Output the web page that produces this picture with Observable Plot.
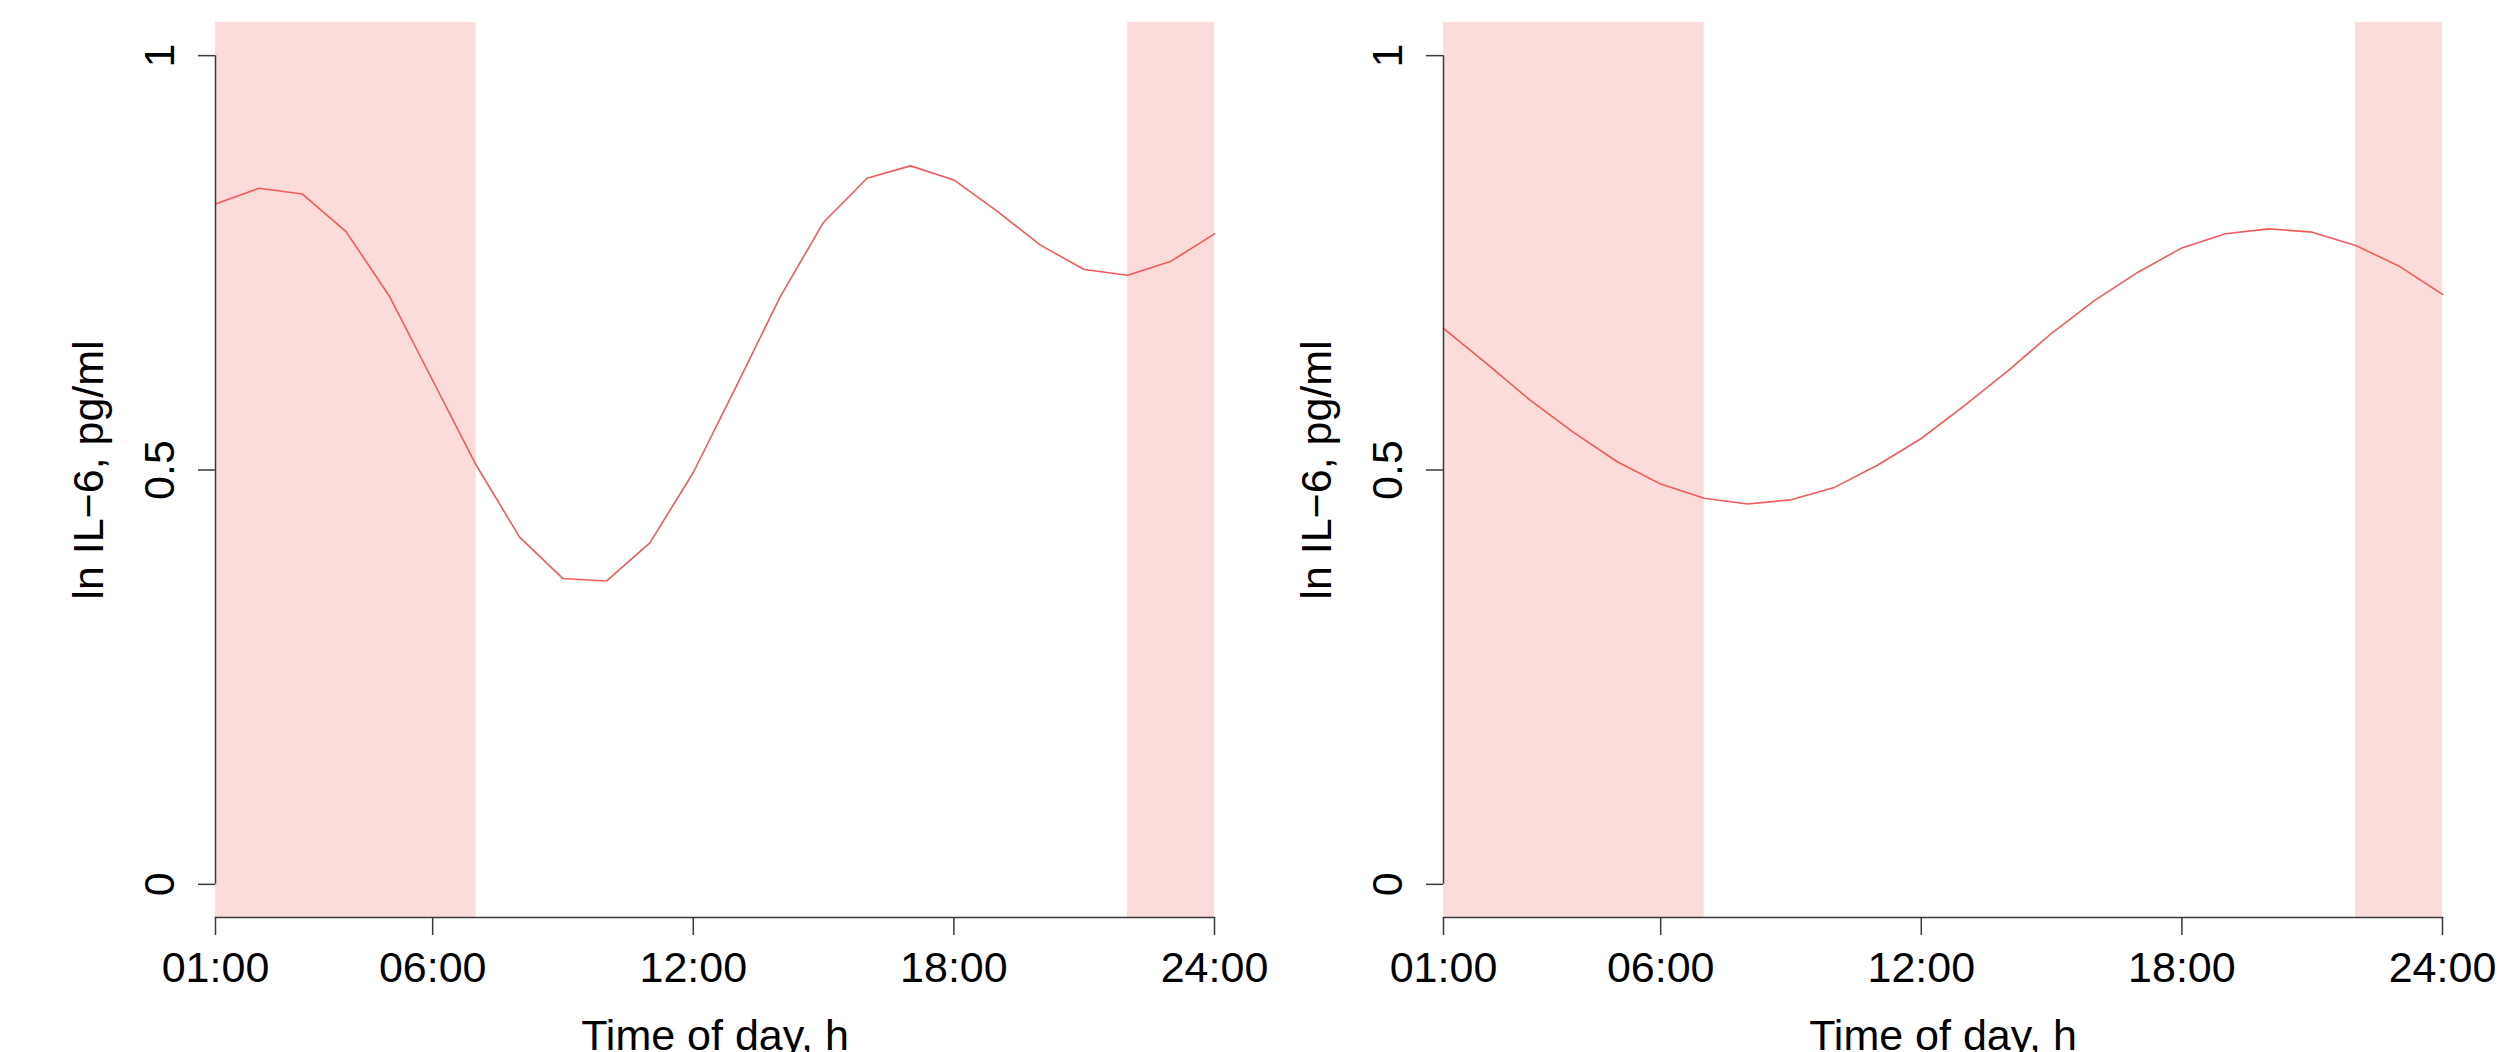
<!DOCTYPE html>
<html>
<head>
<meta charset="utf-8">
<script src="https://cdn.jsdelivr.net/npm/d3@7"></script>
<script src="https://cdn.jsdelivr.net/npm/@observablehq/plot@0.6"></script>
<style>
  html, body { margin: 0; padding: 0; background: #fff; }
  #wrap { display: flex; width: 2506px; height: 1052px; overflow: hidden; background: #fff; }
  #wrap svg { display: block; overflow: visible; }
  #wrap svg:first-child { position: relative; z-index: 2; }
</style>
</head>
<body>
<div id="wrap"></div>
<script>
// Hours of day (x)
const hours = [1,2,3,4,5,6,7,8,9,10,11,12,13,14,15,16,17,18,19,20,21,22,23,24];
// Left panel series: ln IL-6 (pg/ml)
const leftValues = [0.821,0.840,0.833,0.788,0.710,0.608,0.506,0.419,0.369,0.366,0.412,0.497,
                    0.602,0.709,0.799,0.852,0.867,0.850,0.812,0.771,0.742,0.735,0.752,0.785];
// Right panel series: ln IL-6 (pg/ml)
const rightValues = [0.671,0.628,0.584,0.545,0.510,0.483,0.466,0.459,0.464,0.479,0.506,0.538,
                     0.578,0.620,0.665,0.705,0.739,0.768,0.785,0.791,0.787,0.771,0.746,0.712];
// Night (shaded) intervals
const nightStart = [1, 22];
const nightEnd = [7, 24];
// Axis ticks and labels
const xTicks = [1, 6, 12, 18, 24];
const xTickLabels = ["01:00", "06:00", "12:00", "18:00", "24:00"];
const yTicks = [0, 0.5, 1];
const yTickLabels = ["0", "0.5", "1"];
const xLabel = "Time of day, h";
const yLabel = "ln IL\u22126, pg/ml";

const lineColor = "#F35B5B";
const shadeColor = "#FBDCDA";
const axisColor = "#3a3a3a";
const FONT = "'Liberation Sans', Arial, Helvetica, sans-serif";
const FS = 43;

const bands = nightStart.map((s, i) => ({start: s, end: nightEnd[i]}));

function panel(values, marginLeft, marginRight) {
  const data = hours.map((h, i) => ({hour: h, value: values[i]}));
  return Plot.plot({
    width: 1253,
    height: 1052,
    marginLeft,
    marginRight,
    marginTop: 22,
    marginBottom: 135,
    style: {fontFamily: FONT, fontSize: FS + "px", background: "transparent", color: "#000", overflow: "visible"},
    x: {domain: [xTicks[0], xTicks[xTicks.length - 1]]},
    y: {domain: [-0.04, 1.04]},
    marks: [
      Plot.rect(bands, {x1: "start", x2: "end", fill: shadeColor}),
      Plot.line(data, {x: "hour", y: "value", stroke: lineColor, strokeWidth: 1.6}),
      Plot.ruleX([xTicks[0]], {y1: yTicks[0], y2: yTicks[yTicks.length - 1], stroke: axisColor, strokeWidth: 1.5}),
      Plot.frame({anchor: "bottom", stroke: axisColor, strokeWidth: 1.5}),
      Plot.axisX({
        ticks: xTicks,
        tickFormat: d => xTickLabels[xTicks.indexOf(d)],
        tickSize: 18,
        tickPadding: 16,
        fontSize: FS,
        stroke: axisColor,
        strokeWidth: 1.5,
        fill: "#000",
        label: null
      }),
      Plot.axisY({
        ticks: yTicks,
        tickFormat: d => yTickLabels[yTicks.indexOf(d)],
        tickSize: 17,
        tickPadding: 25,
        tickRotate: -90,
        fontSize: FS,
        stroke: axisColor,
        strokeWidth: 1.5,
        fill: "#000",
        label: null
      }),
      Plot.text([yLabel], {
        text: d => d, frameAnchor: "left", rotate: -90, dx: -113,
        lineAnchor: "bottom", textAnchor: "middle", fontSize: FS, fill: "#000"
      }),
      Plot.text([xLabel], {
        text: d => d, frameAnchor: "bottom", dy: 132,
        lineAnchor: "bottom", textAnchor: "middle", fontSize: FS, fill: "#000"
      })
    ]
  });
}

const wrap = document.getElementById("wrap");
wrap.appendChild(panel(leftValues, 215, 39));
wrap.appendChild(panel(rightValues, 190, 64));
</script>
</body>
</html>
